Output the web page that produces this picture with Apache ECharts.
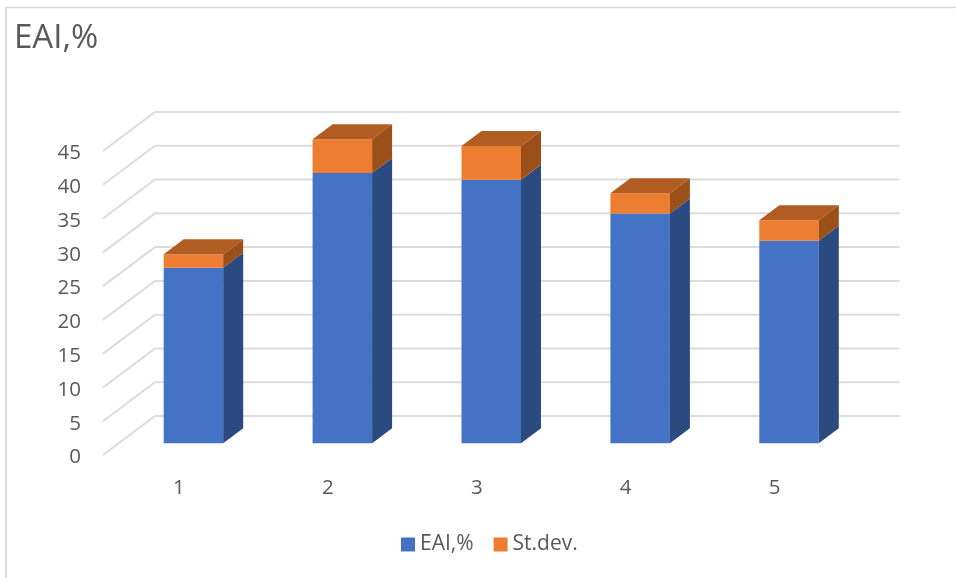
<!DOCTYPE html>
<html>
<head>
<meta charset="utf-8">
<style>html,body{margin:0;padding:0;background:#fff}#chart{width:956px;height:578px}</style>
<script src="https://cdn.jsdelivr.net/npm/echarts@6/dist/echarts.min.js"></script>
</head>
<body>
<div id="chart"></div>
<script>
const categories = ['1', '2', '3', '4', '5'];
const eai = [26, 40, 39, 34, 30];
const stDev = [2, 5, 5, 3, 3];
const axisTicks = [0, 5, 10, 15, 20, 25, 30, 35, 40, 45];

// Pseudo-3D projection, in pixels
const WALL_DX = 52, WALL_DY = -39;      // front edge of the floor to the back wall
const BAR_DX = 16, BAR_DY = -11.7;      // where a column's front face stands on the floor
const COL_DX = 20, COL_DY = -15;        // column depth
const COL_W = 59.5;

const TEXT = '#595959', FONT = '"Open Sans", sans-serif';

// Walls: one bent line per tick, side wall then back wall
function renderWall(params, api) {
  const v = api.value(0);
  const y = api.coord([0, v])[1];
  const g = params.coordSys;
  return {
    type: 'polyline',
    silent: true,
    shape: { points: [[g.x, y], [g.x + WALL_DX, y + WALL_DY], [g.x + g.width + WALL_DX, y + WALL_DY]] },
    style: { stroke: '#dcdcdc', lineWidth: 2, fill: null }
  };
}

// One stacked segment of a column: front face, side face and optionally the cap
function columnRenderer(front, side, cap) {
  return function (params, api) {
    const i = api.value(0);
    const low = api.coord([i, api.value(1)]);
    const high = api.coord([i, api.value(2)]);
    const x0 = low[0] + BAR_DX - COL_W / 2, x1 = x0 + COL_W;
    const yb = low[1] + BAR_DY, yt = high[1] + BAR_DY;
    const children = [
      { type: 'rect', shape: { x: x0, y: yt, width: COL_W, height: yb - yt }, style: { fill: front } },
      { type: 'polygon', shape: { points: [[x1, yb], [x1 + COL_DX, yb + COL_DY], [x1 + COL_DX, yt + COL_DY], [x1, yt]] }, style: { fill: side } }
    ];
    if (cap) {
      children.push({ type: 'polygon', shape: { points: [[x0, yt], [x0 + COL_DX, yt + COL_DY], [x1 + COL_DX, yt + COL_DY], [x1, yt]] }, style: { fill: cap } });
    }
    return { type: 'group', children };
  };
}

const chart = echarts.init(document.getElementById('chart'), null, { renderer: 'canvas' });
chart.setOption({
  animation: false,
  backgroundColor: '#ffffff',
  title: {
    text: 'EAI,%', left: 9, top: 17,
    textStyle: { color: TEXT, fontFamily: FONT, fontSize: 33, fontWeight: 'normal' }
  },
  legend: {
    left: 396, top: 529, itemWidth: 14, itemHeight: 14, itemGap: 20, icon: 'rect',
    data: ['EAI,%', 'St.dev.'],
    textStyle: { color: TEXT, fontFamily: FONT, fontSize: 21 }
  },
  grid: { left: 103, right: 108.5, top: 151, bottom: 123 },
  xAxis: {
    type: 'category', data: categories,
    axisLine: { show: false }, axisTick: { show: false },
    axisLabel: { color: TEXT, fontFamily: FONT, fontSize: 20.5, margin: 23, padding: [0, 0, 0, 3] }
  },
  yAxis: {
    type: 'value', min: 0, max: 45, interval: 5,
    axisLine: { show: false }, axisTick: { show: false }, splitLine: { show: false },
    axisLabel: {
      margin: 22,
      formatter: '{tick|{value}}',
      rich: { tick: { color: TEXT, fontFamily: FONT, fontSize: 20.5, padding: [5, 0, 0, 0] } }
    }
  },
  series: [
    {
      type: 'custom', name: 'walls', renderItem: renderWall, silent: true, z: 1,
      encode: { y: 0 }, data: axisTicks.map(v => [v])
    },
    {
      type: 'custom', name: 'EAI,%', z: 2, clip: false,
      itemStyle: { color: '#4472C4' },
      renderItem: columnRenderer('#4472C4', '#2A4A80', null),
      encode: { x: 0, y: [1, 2] },
      data: eai.map((v, i) => [i, 0, v])
    },
    {
      type: 'custom', name: 'St.dev.', z: 3, clip: false,
      itemStyle: { color: '#ED7D31' },
      renderItem: columnRenderer('#ED7D31', '#9C5019', '#B15C22'),
      encode: { x: 0, y: [1, 2] },
      data: stDev.map((v, i) => [i, eai[i], eai[i] + v])
    }
  ],
  graphic: [
    { type: 'line', silent: true, shape: { x1: 6, y1: 7, x2: 6, y2: 578 }, style: { stroke: '#d9d9d9', lineWidth: 2 } },
    { type: 'line', silent: true, shape: { x1: 5, y1: 7.5, x2: 956, y2: 7.5 }, style: { stroke: '#d9d9d9', lineWidth: 1.5 } }
  ]
});
</script>
</body>
</html>
